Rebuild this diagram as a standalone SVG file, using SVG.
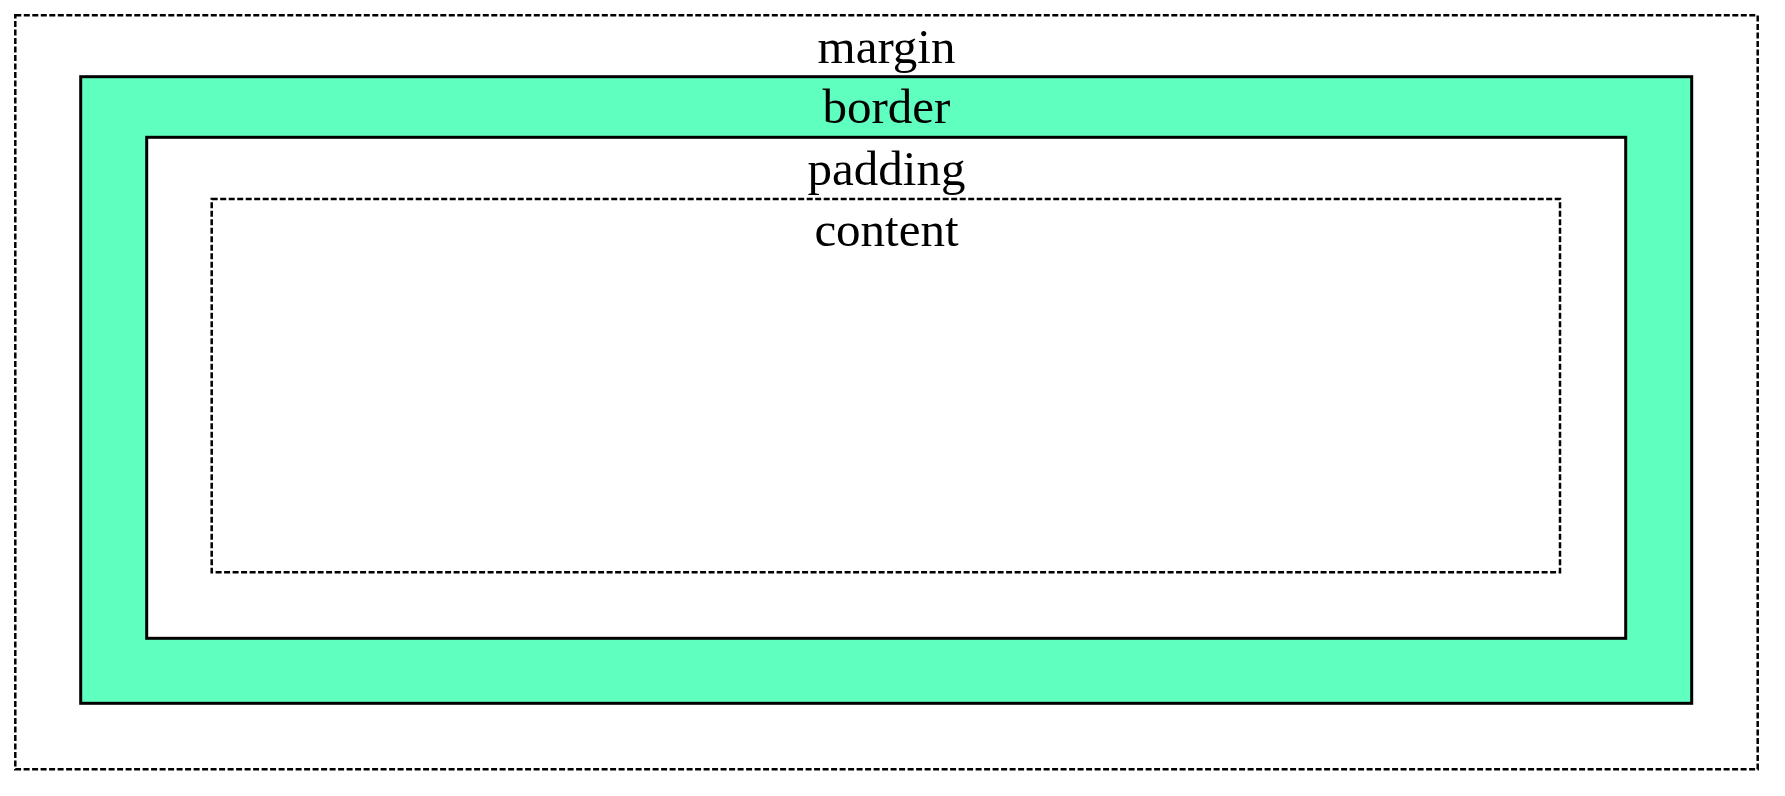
<svg xmlns="http://www.w3.org/2000/svg" width="1785" height="796" viewBox="0 0 1785 796">
  <style>
    .lbl { font-family: "Liberation Serif", "Times New Roman", serif; font-size: 49px; fill: #000; text-anchor: middle; }
    .dash { fill: none; stroke: #000; stroke-width: 2.5; stroke-dasharray: 6 2.5; }
    .solid { stroke: #000; stroke-width: 3; }
  </style>
  <rect width="1785" height="796" fill="#fff"/>
  <g id="margin">
    <rect class="dash" x="15.3" y="15.3" width="1742.4" height="754"/>
    <text class="lbl" x="886.5" y="63">margin</text>
  </g>
  <g id="border">
    <rect class="solid" x="80.7" y="76.7" width="1611" height="626.6" fill="#5fffbf"/>
    <text class="lbl" x="886.5" y="123">border</text>
  </g>
  <g id="padding">
    <rect class="solid" x="146.7" y="137.3" width="1479" height="501" fill="#fff"/>
    <text class="lbl" x="886.5" y="185">padding</text>
  </g>
  <g id="content">
    <rect class="dash" x="211.7" y="199" width="1348.3" height="373.3"/>
    <text class="lbl" x="886.5" y="246">content</text>
  </g>
  <g id="connectors"></g>
</svg>
